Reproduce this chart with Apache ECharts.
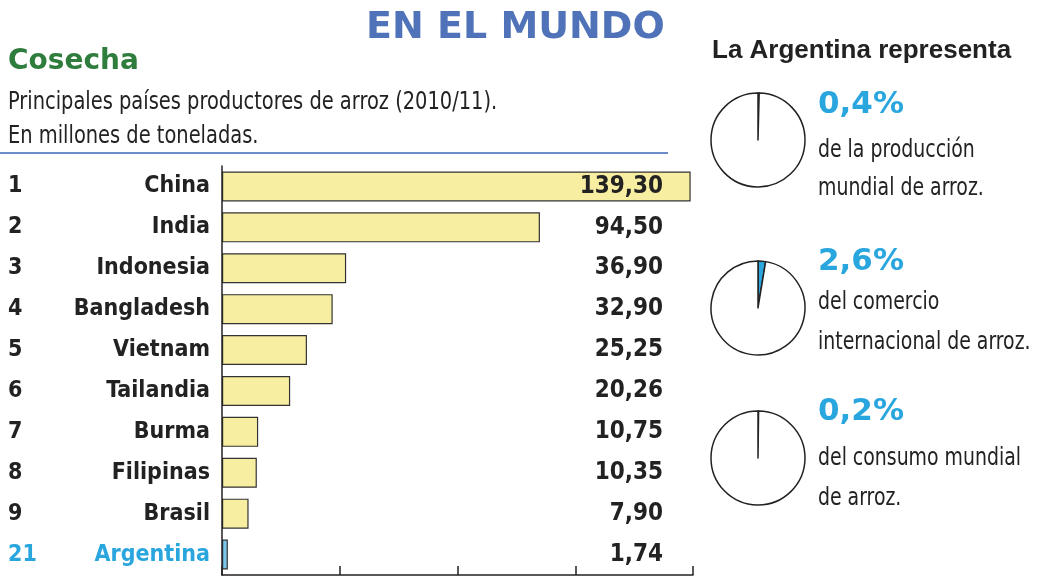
<!DOCTYPE html>
<html>
<head>
<meta charset="utf-8">
<script src="https://cdn.jsdelivr.net/npm/echarts@6/dist/echarts.min.js"></script>
<style>
  html, body { margin: 0; padding: 0; background: #fff; }
  #chart { width: 1037px; height: 576px; }
</style>
</head>
<body>
<div id="chart"></div>
<script>
// datos: principales productores de arroz 2010/11 (millones de toneladas)
const ranks = ['1', '2', '3', '4', '5', '6', '7', '8', '9', '21'];
const countries = ['China', 'India', 'Indonesia', 'Bangladesh', 'Vietnam', 'Tailandia', 'Burma', 'Filipinas', 'Brasil', 'Argentina'];
const production = [139.30, 94.50, 36.90, 32.90, 25.25, 20.26, 10.75, 10.35, 7.90, 1.74];

// participación argentina (%)
const sharePct = [0.4, 2.6, 0.2];
const shareLabels = ['0,4%', '2,6%', '0,2%'];
const shareText = [
    ['de la producción', 'mundial de arroz.'],
    ['del comercio', 'internacional de arroz.'],
    ['del consumo mundial', 'de arroz.']
];

const narrow = '"Liberation Sans Narrow", "DejaVu Sans Condensed", sans-serif';
const blue = '#2aa6df';
const dark = '#222';

const chart = echarts.init(document.getElementById('chart'));

function fmt(v) {
    return v.toFixed(2).replace('.', ',');
}

// texto angosto: se comprime en x para imitar la tipografía condensada
function narrowText(x, y, text, size, color, sx) {
    return {
        type: 'text', x: x, y: y, scaleX: sx,
        style: { text: text, fill: color, font: size + 'px ' + narrow, verticalAlign: 'middle' }
    };
}

// tortas de la derecha
const pieCenters = [[758, 140], [758, 308], [758, 458]];
const pieSeries = sharePct.map((p, i) => ({
    type: 'pie',
    silent: true,
    center: pieCenters[i],
    radius: 47,
    startAngle: 90,
    clockwise: true,
    label: { show: false },
    labelLine: { show: false },
    itemStyle: { borderColor: dark, borderWidth: 1.5 },
    data: [
        { value: p, itemStyle: { color: blue } },
        { value: 100 - p, itemStyle: { color: '#fff' } }
    ]
}));

// textos de la derecha
const textY = [[105, 150, 188], [262, 302, 342], [412, 458, 498]];
const sideTexts = [];
shareLabels.forEach((lab, i) => {
    sideTexts.push({
        type: 'text', x: 818, y: textY[i][0],
        style: { text: lab, fill: blue, font: '900 31px "DejaVu Sans", sans-serif', verticalAlign: 'middle' }
    });
    shareText[i].forEach((line, j) => {
        sideTexts.push(narrowText(818, textY[i][j + 1], line, 25, dark, 0.84));
    });
});

const labFont = { fontFamily: narrow, fontWeight: 'bold', fontSize: 23 };

chart.setOption({
    animation: false,
    grid: { left: 222, top: 166, width: 471, height: 409 },
    xAxis: {
        type: 'value',
        min: 0, max: 140, interval: 35,
        axisLine: { show: true, lineStyle: { color: dark, width: 1.5 } },
        axisTick: { show: true, inside: true, length: 9, lineStyle: { color: dark, width: 1.5 } },
        axisLabel: { show: false },
        splitLine: { show: false }
    },
    yAxis: [{
        type: 'category',
        inverse: true,
        data: countries,
        z: 5,
        axisLine: { show: true, lineStyle: { color: dark, width: 1.5 } },
        axisTick: { show: false },
        axisLabel: {
            margin: 12,
            formatter: (value, idx) => {
                const arg = value === 'Argentina';
                return `{${arg ? 'ra' : 'r'}|${ranks[idx]}}{${arg ? 'na' : 'n'}|${value}}`;
            },
            rich: {
                r: { width: 62, align: 'left', ...labFont, color: dark },
                n: { width: 140, align: 'right', ...labFont, color: dark },
                ra: { width: 62, align: 'left', ...labFont, color: blue },
                na: { width: 140, align: 'right', ...labFont, color: blue }
            }
        }
    }, {
        type: 'category',
        inverse: true,
        position: 'right',
        z: 5,
        data: production.map(fmt),
        axisLine: { show: false },
        axisTick: { show: false },
        axisLabel: { margin: -30, align: 'right', ...labFont, fontSize: 24, color: dark }
    }],
    title: [{
        text: 'EN EL MUNDO',
        left: 361, top: 4,
        textStyle: { color: '#4f72b8', fontFamily: '"DejaVu Sans", sans-serif', fontWeight: 900, fontSize: 38 }
    }, {
        text: 'Cosecha',
        left: 3, top: 43,
        textStyle: { color: '#2f7d3c', fontFamily: '"DejaVu Sans", sans-serif', fontWeight: 900, fontSize: 28 }
    }, {
        text: 'La Argentina representa',
        left: 707, top: 33,
        textStyle: { color: dark, fontFamily: '"Liberation Sans", sans-serif', fontWeight: 'bold', fontSize: 26 }
    }],
    graphic: [
        narrowText(8, 103, 'Principales países productores de arroz (2010/11).', 24, dark, 0.9),
        narrowText(8, 137, 'En millones de toneladas.', 24, dark, 0.9),
        { type: 'line', shape: { x1: 0, y1: 153, x2: 668, y2: 153 }, style: { stroke: '#6a8cc8', lineWidth: 2 } },
        ...sideTexts
    ],
    series: [{
        type: 'bar',
        silent: true,
        barWidth: 30,
        data: production.map((v, i) => ({
            value: v,
            itemStyle: { color: countries[i] === 'Argentina' ? '#7cc6ea' : '#f8eea2' }
        })),
        itemStyle: { borderColor: '#333', borderWidth: 1.2 }
    }, ...pieSeries]
});
</script>
</body>
</html>
